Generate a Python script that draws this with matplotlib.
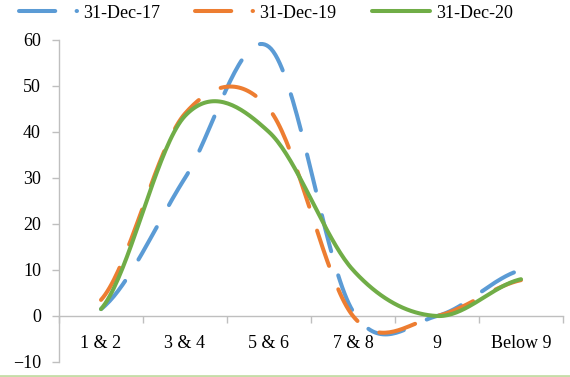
import numpy as np
import matplotlib

matplotlib.use("Agg")
import matplotlib.pyplot as plt
from matplotlib.lines import Line2D

categories = ["1 & 2", "3 & 4", "5 & 6", "7 & 8", "9", "Below 9"]
dec17 = [1.5, 30, 58.5, 1, 0, 10]
dec19 = [3.5, 44, 45, 0, 0, 7.8]
dec20 = [1.5, 43.5, 40, 10, 0, 8]
series_names = ["31-Dec-17", "31-Dec-19", "31-Dec-20"]

COLORS = ["#5B9BD5", "#ED7D31", "#70AD47"]
AXIS_GREY = "#BFBFBF"


def smooth(ys, steps=40):
    """Catmull-Rom curve through the points, same idea as a spreadsheet 'smoothed line'."""
    ys = np.asarray(ys, dtype=float)
    xs = np.arange(len(ys), dtype=float)
    pad = np.concatenate([[ys[0]], ys, [ys[-1]]])
    out_x, out_y = [], []
    for i in range(len(ys) - 1):
        p0, p1, p2, p3 = pad[i], pad[i + 1], pad[i + 2], pad[i + 3]
        m1 = (p2 - p0) / 2
        m2 = (p3 - p1) / 2
        if i == 0:
            m1 = (p2 - p1) / 2
        if i == len(ys) - 2:
            m2 = (p2 - p1) / 2
        t = np.linspace(0, 1, steps)
        h00 = 2 * t**3 - 3 * t**2 + 1
        h10 = t**3 - 2 * t**2 + t
        h01 = -2 * t**3 + 3 * t**2
        h11 = t**3 - t**2
        out_x.append(xs[i] + t)
        out_y.append(h00 * p1 + h10 * m1 + h01 * p2 + h11 * m2)
    return np.concatenate(out_x), np.concatenate(out_y)


plt.rcParams["font.family"] = ["Liberation Serif", "DejaVu Serif"]
plt.rcParams["font.size"] = 13

fig = plt.figure(figsize=(5.7, 3.77), dpi=100)
ax = fig.add_axes([59 / 570, 15 / 377, 504 / 570, 322 / 377])

lw = 2.9
dash = (0, (9.25, 6.25))
styles = [dash, dash, "-"]
for vals, name, color, ls in zip([dec17, dec19, dec20], series_names, COLORS, styles):
    sx, sy = smooth(vals)
    ax.plot(sx, sy, color=color, lw=lw, linestyle=ls, label=name,
            dash_capstyle="round", solid_capstyle="round", zorder=3)

ax.set_xlim(-0.5, len(categories) - 0.5)
ax.set_ylim(-10, 60)
ax.set_yticks(range(-10, 61, 10))

for side in ["top", "right"]:
    ax.spines[side].set_visible(False)
ax.spines["bottom"].set_position(("data", 0))
for side in ["left", "bottom"]:
    ax.spines[side].set_color(AXIS_GREY)
    ax.spines[side].set_linewidth(1.0)

ax.set_xticks(range(len(categories)))
ax.set_xticklabels(categories)
ax.set_xticks(np.arange(-0.5, len(categories)), minor=True)
ax.tick_params(axis="x", which="major", length=0, pad=14)
ax.tick_params(axis="x", which="minor", length=5, width=1.0, color=AXIS_GREY, direction="out")
ax.tick_params(axis="y", length=5, width=1.0, color=AXIS_GREY, direction="out", pad=8)

# legend samples: a dash plus the start of the next one for the dashed series
legend_dash = (0, (9.0, 5.3, 0.2, 10))
handles = [
    Line2D([], [], color=COLORS[0], lw=lw, linestyle=legend_dash, dash_capstyle="round"),
    Line2D([], [], color=COLORS[1], lw=lw, linestyle=legend_dash, dash_capstyle="round"),
    Line2D([], [], color=COLORS[2], lw=lw, solid_capstyle="round"),
]
fig.legend(handles, series_names, loc="center left",
           bbox_to_anchor=(19 / 570, 1 - 13 / 377), ncol=3,
           frameon=False, borderpad=0, borderaxespad=0, handlelength=3.2,
           handletextpad=0.35, columnspacing=1.95)

# thin green rule along the bottom edge
fig.add_artist(Line2D([0, 1], [1.5 / 377, 1.5 / 377], transform=fig.transFigure,
                      color="#C5DDA8", lw=2))

fig.savefig("out.png", dpi=100)
plt.close(fig)
